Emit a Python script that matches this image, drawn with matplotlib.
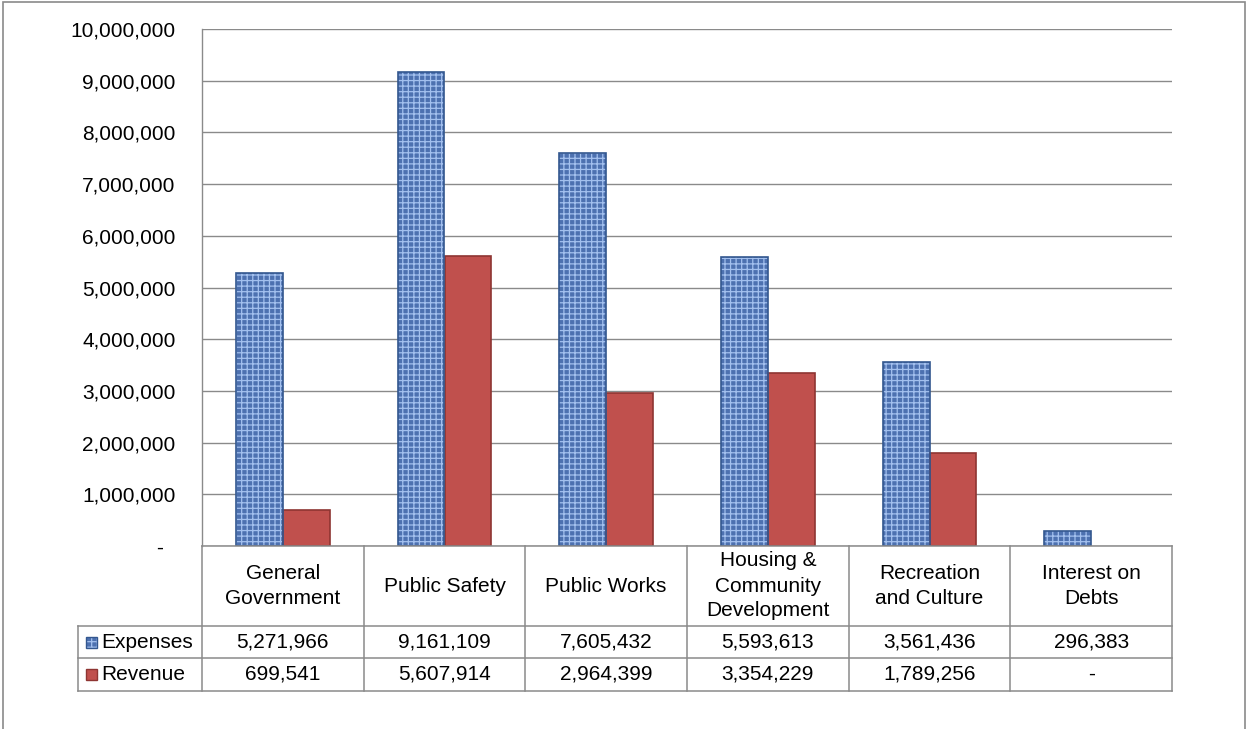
import numpy as np
import matplotlib
matplotlib.use("Agg")
import matplotlib.pyplot as plt
import matplotlib.transforms as mtransforms
from matplotlib.patches import Rectangle
from matplotlib.lines import Line2D

# ---------------- data ----------------
categories = ["General\nGovernment", "Public Safety", "Public Works",
              "Housing &\nCommunity\nDevelopment", "Recreation\nand Culture",
              "Interest on\nDebts"]
series_names = ["Expenses", "Revenue"]
expenses = [5271966, 9161109, 7605432, 5593613, 3561436, 296383]
revenue = [699541, 5607914, 2964399, 3354229, 1789256, 0]
yticks = [0, 1000000, 2000000, 3000000, 4000000, 5000000,
          6000000, 7000000, 8000000, 9000000, 10000000]

# ---------------- style ----------------
plt.rcParams['font.family'] = ['Liberation Sans', 'DejaVu Sans']
plt.rcParams['hatch.linewidth'] = 0.9
FS = 15
GRID = '#8a8a8a'
EXP_FACE = '#4d71b0'
EXP_HATCH = '#a3c0ee'
EXP_EDGE = '#33578f'
EXP_PATTERN = '+++'
REV_FACE = '#c0504d'
REV_EDGE = '#8e3532'


def fmt(v):
    return f"{v:,.0f}" if v else "-"


W, H = 1248, 729
fig = plt.figure(figsize=(W / 100, H / 100), dpi=100)
L, R, T, B = 202, 1172, 29, 546
ax = fig.add_axes([L / W, 1 - B / H, (R - L) / W, (B - T) / H])

n = len(categories)
x = np.arange(n)
w = 0.289

# bars
b1 = ax.bar(x - w / 2, expenses, w, color=EXP_FACE, edgecolor=EXP_HATCH,
            hatch=EXP_PATTERN, linewidth=0, zorder=3)
b2 = ax.bar(x - w / 2, expenses, w, fill=False, edgecolor=EXP_EDGE,
            linewidth=1.2, zorder=4)
b3 = ax.bar(x + w / 2, revenue, w, color=REV_FACE, edgecolor=REV_EDGE,
            linewidth=1.2, zorder=3)
for cont in (b1, b2, b3):
    for p in cont:
        if p.get_height() == 0:
            p.set_visible(False)

ax.set_xlim(-0.5, n - 0.5)
ax.set_ylim(0, 10000000)
ax.set_yticks(yticks)
ax.set_yticklabels([fmt(v) if v else "-  " for v in yticks], fontsize=FS)
ax.tick_params(axis='y', length=0, pad=19)
ax.set_xticks([])
ax.yaxis.grid(True, color=GRID, linewidth=1.0, zorder=0)
ax.set_axisbelow(True)
for s in ['top', 'right', 'bottom']:
    ax.spines[s].set_visible(False)
ax.spines['left'].set_color(GRID)
ax.spines['left'].set_linewidth(1.0)

# ---------------- data table ----------------
trans = mtransforms.blended_transform_factory(ax.transData, ax.transAxes)
ph = B - T
cw = (R - L) / n


def ay(py):
    return (B - py) / ph


def dx(px):
    return -0.5 + (px - L) / cw


row_y = [B, 626, 658, 691]
xl = dx(78)
lk = dict(color=GRID, linewidth=1.1, transform=trans, clip_on=False, zorder=5)

# horizontal lines
ax.add_line(Line2D([-0.5, n - 0.5], [ay(row_y[0])] * 2, **lk))
for yy in row_y[1:]:
    ax.add_line(Line2D([xl, n - 0.5], [ay(yy)] * 2, **lk))
# vertical lines
for i in range(n + 1):
    ax.add_line(Line2D([i - 0.5] * 2, [ay(row_y[0]), ay(row_y[3])], **lk))
ax.add_line(Line2D([xl] * 2, [ay(row_y[1]), ay(row_y[3])], **lk))

# header text
hy = ay((row_y[0] + row_y[1]) / 2)
for i, c in enumerate(categories):
    ax.text(i, hy, c, transform=trans, ha='center', va='center',
            fontsize=FS, linespacing=1.4, clip_on=False)

# value rows
for r, (name, vals) in enumerate([(series_names[0], expenses),
                                   (series_names[1], revenue)]):
    cy = ay((row_y[r + 1] + row_y[r + 2]) / 2)
    for i, v in enumerate(vals):
        ax.text(i, cy, fmt(v), transform=trans, ha='center', va='center',
                fontsize=FS, clip_on=False)
    ax.text(dx(101), cy, name, transform=trans, ha='left', va='center',
            fontsize=FS, clip_on=False)

# legend keys
ks = 11 / ph
kw = 11 / cw
for r, (face, edge, hatch, hcol) in enumerate([
        (EXP_FACE, EXP_EDGE, EXP_PATTERN, EXP_HATCH),
        (REV_FACE, REV_EDGE, None, None)]):
    cy = ay((row_y[r + 1] + row_y[r + 2]) / 2)
    if hatch:
        ax.add_patch(Rectangle((dx(86), cy - ks / 2), kw, ks, facecolor=face,
                               edgecolor=hcol, hatch=hatch, linewidth=0,
                               transform=trans, clip_on=False, zorder=6))
    ax.add_patch(Rectangle((dx(86), cy - ks / 2), kw, ks,
                           facecolor='none' if hatch else face,
                           edgecolor=edge, linewidth=1.0,
                           transform=trans, clip_on=False, zorder=7))

# outer chart frame
fig.add_artist(Rectangle((2.5 / W, -0.05), (1245 - 2.5) / W, 1.05 - 2.5 / H,
                         transform=fig.transFigure, fill=False,
                         edgecolor=GRID, linewidth=1.2))

fig.savefig("out.png", dpi=100)
